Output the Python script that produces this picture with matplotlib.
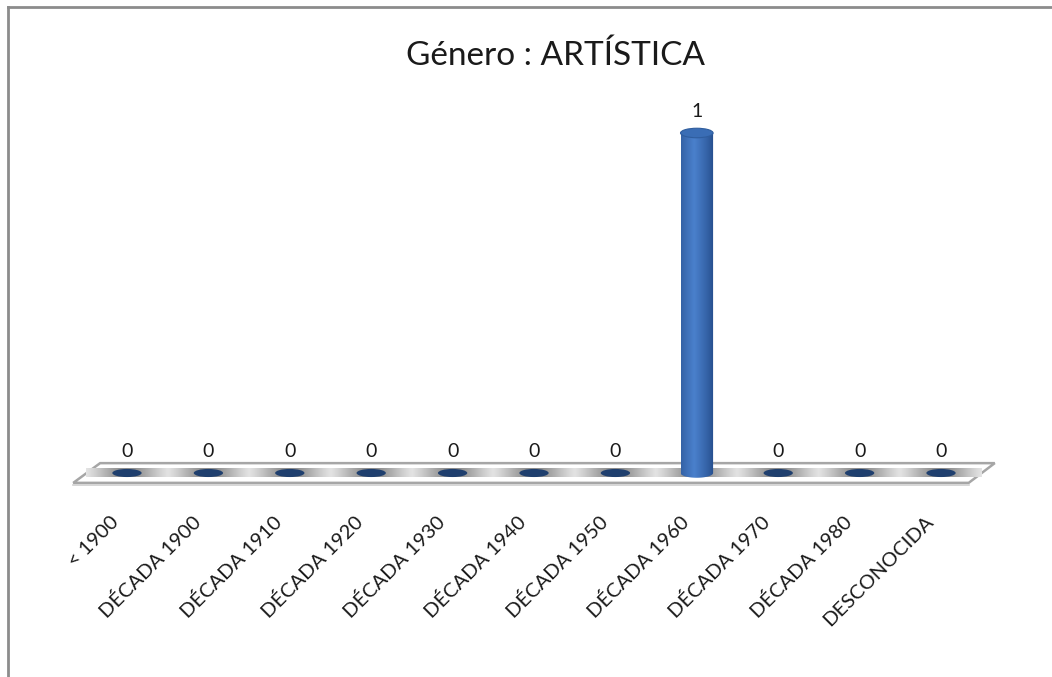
import numpy as np
import matplotlib
matplotlib.use("Agg")
import matplotlib.pyplot as plt
from matplotlib.patches import Ellipse, Polygon
from matplotlib.lines import Line2D
from matplotlib.colors import to_rgb

plt.rcParams['font.family'] = ['Lato', 'DejaVu Sans']

categorias = ['< 1900', 'DÉCADA 1900', 'DÉCADA 1910', 'DÉCADA 1920', 'DÉCADA 1930',
              'DÉCADA 1940', 'DÉCADA 1950', 'DÉCADA 1960', 'DÉCADA 1970',
              'DÉCADA 1980', 'DESCONOCIDA']
valores = [0, 0, 0, 0, 0, 0, 0, 1, 0, 0, 0]
titulo = 'Género : ARTÍSTICA'

W, H = 1052, 677
fig = plt.figure(figsize=(W / 100, H / 100), dpi=100)

# marco gris (solo se ve arriba y a la izquierda)
fig.add_artist(Line2D([8 / W, 8 / W], [0, 1 - 7 / H], transform=fig.transFigure,
                      color='#8c8c8c', lw=2))
fig.add_artist(Line2D([8 / W, 1], [1 - 7 / H, 1 - 7 / H], transform=fig.transFigure,
                      color='#8c8c8c', lw=2))

# ejes: x = indice de categoria, y = valor
ax = fig.add_axes([70 / W, (H - 558) / H, 928 / W, 476 / H])
ax.axis('off')

n = len(categorias)
x = np.arange(n)
ancho = 0.4
alto_elipse = 0.028

# suelo (paralelogramo)
d = 0.029
suelo = Polygon([[-0.33, d], [10.66, d], [10.34, -d], [-0.66, -d]], closed=True,
                facecolor='white', edgecolor='#a6a6a6', lw=1.8, zorder=1)
ax.add_patch(suelo)
ax.plot([-0.66, 10.34], [-d - 0.006, -d - 0.006], color='#d0d0d0', lw=1.2, zorder=1)

# sombra gris en el suelo
xs = np.linspace(-0.5, 10.5, 600)
perfil = np.zeros_like(xs)
for xi in x:
    perfil = np.maximum(perfil, np.exp(-((xs - xi) / 0.42) ** 2))
gris = 1 - 0.45 * perfil
img = np.dstack([gris, gris, gris]).repeat(2, axis=0)
ax.imshow(img, extent=[-0.5, 10.5, -0.012, 0.012], aspect='auto', zorder=2,
          interpolation='bilinear')

# gradiente del cilindro
c_osc = np.array(to_rgb('#244c8a'))
c_cla = np.array(to_rgb('#4a80cc'))
t = np.linspace(0, 1, 100)
peso = np.clip(1 - np.abs(t - 0.4) / 0.6, 0, 1) ** 0.8
grad = c_osc[None, :] * (1 - peso[:, None]) + c_cla[None, :] * peso[:, None]
grad = grad[None, :, :]

ang = np.linspace(np.pi, 2 * np.pi, 60)
for xi, v in zip(x, valores):
    if v > 0:
        arco = np.column_stack([xi + ancho / 2 * np.cos(ang),
                                alto_elipse / 2 * np.sin(ang)])
        verts = np.vstack([[xi - ancho / 2, v], arco, [xi + ancho / 2, v]])
        clip = Polygon(verts, closed=True, transform=ax.transData, facecolor='none',
                       edgecolor='none')
        ax.add_patch(clip)
        im = ax.imshow(grad, extent=[xi - ancho / 2, xi + ancho / 2,
                                     -alto_elipse, v], aspect='auto', zorder=4)
        im.set_clip_path(clip)
        ax.add_patch(Ellipse((xi, v), ancho, alto_elipse, facecolor='#3a6db5',
                             edgecolor='#2f5d9e', lw=0.8, zorder=5))
    else:
        ax.add_patch(Ellipse((xi, v), ancho * 0.9, alto_elipse * 0.85,
                             facecolor='#1f3f6e', edgecolor='none', zorder=5))
    ax.text(xi, v + 0.062, str(v), ha='center', va='center', fontsize=14,
            color='#1a1a1a', zorder=6)

# etiquetas de categoria
for xi, etiqueta in zip(x, categorias):
    ax.text(xi - 0.13, -0.135, etiqueta, rotation=45, rotation_mode='anchor',
            ha='right', va='center', fontsize=14.5, color='#1a1a1a')

ax.set_xlim(-0.7, 10.7)
ax.set_ylim(-0.25, 1.15)

fig.text(555 / W, 1 - 56 / H, titulo, ha='center', va='center', fontsize=24,
         color='#1a1a1a')

fig.savefig('out.png', dpi=100)
